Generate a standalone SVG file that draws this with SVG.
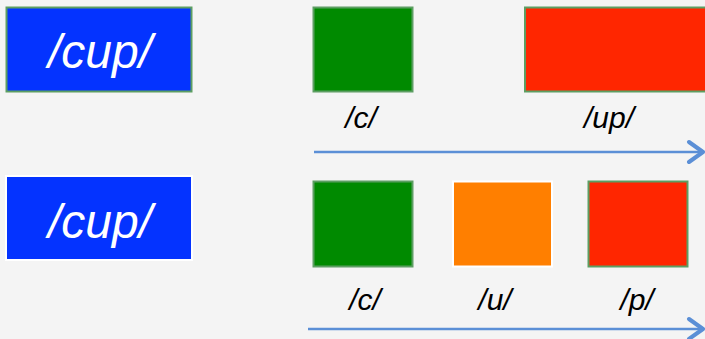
<svg xmlns="http://www.w3.org/2000/svg" width="705" height="339" viewBox="0 0 705 339">
<style>
.big{font-family:"Liberation Sans",Arial,sans-serif;font-style:italic;font-size:48px;fill:#ffffff;text-anchor:middle}
.lbl{font-family:"Liberation Sans",Arial,sans-serif;font-style:italic;font-size:30px;fill:#000000;text-anchor:middle}
.gs{stroke:#5c9e62;stroke-width:2}
.ws{stroke:#ffffff;stroke-width:2}
.ax{stroke:#5b8fd6;stroke-width:2.5;fill:none}
.ah{stroke:#5b8fd6;stroke-width:4;fill:none;stroke-linecap:round;stroke-linejoin:round}
</style>
<rect width="705" height="339" fill="#f4f4f4"/>
<g id="word1">
<rect x="6.5" y="7.5" width="185" height="84" fill="#0433ff" class="gs"/>
<text x="100" y="68" class="big">/cup/</text>
</g>
<g id="c1">
<rect x="313.5" y="7.5" width="99" height="84" fill="#008a00" class="gs"/>
<text x="361" y="128" class="lbl">/c/</text>
</g>
<g id="up1">
<rect x="525" y="7.5" width="190" height="84" fill="#ff2600" class="gs"/>
<text x="609" y="128" class="lbl">/up/</text>
</g>
<g id="word2">
<rect x="6" y="176" width="186" height="84" fill="#0433ff" class="ws"/>
<text x="100" y="238" class="big">/cup/</text>
</g>
<g id="c2">
<rect x="313.5" y="181.5" width="99" height="85" fill="#008a00" class="gs"/>
<text x="365" y="310" class="lbl">/c/</text>
</g>
<g id="u2">
<rect x="453" y="181.5" width="99" height="85" fill="#ff7f00" class="ws"/>
<text x="495" y="310" class="lbl">/u/</text>
</g>
<g id="p2">
<rect x="588.5" y="181.5" width="99" height="85" fill="#ff2600" class="gs"/>
<text x="637" y="310" class="lbl">/p/</text>
</g>
<g id="connectors">
<line x1="314" y1="152" x2="702" y2="152" class="ax"/>
<polyline points="689,142 703,152 689,162" class="ah"/>
<line x1="308" y1="329" x2="702" y2="329" class="ax"/>
<polyline points="689,319 703,329 689,339" class="ah"/>
</g>
</svg>
